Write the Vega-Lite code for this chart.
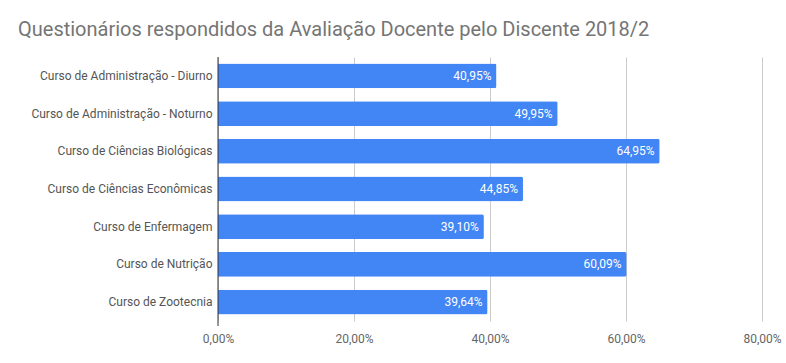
{
  "$schema": "https://vega.github.io/schema/vega-lite/v6.json",
  "width": 544,
  "height": 264,
  "autosize": {"type": "none"},
  "padding": {"left": 218, "top": 57, "right": 24, "bottom": 42},
  "background": "white",
  "title": {
    "text": "Questionários respondidos da Avaliação Docente pelo Discente 2018/2",
    "anchor": "start",
    "frame": "group",
    "dx": -200,
    "offset": 17,
    "font": "Roboto",
    "fontSize": 20,
    "fontWeight": "normal",
    "color": "#757575"
  },
  "data": {
    "values": [
      {"curso": "Curso de Administração - Diurno", "valor": 0.4095, "rotulo": "40,95%"},
      {"curso": "Curso de Administração - Noturno", "valor": 0.4995, "rotulo": "49,95%"},
      {"curso": "Curso de Ciências Biológicas", "valor": 0.6495, "rotulo": "64,95%"},
      {"curso": "Curso de Ciências Econômicas", "valor": 0.4485, "rotulo": "44,85%"},
      {"curso": "Curso de Enfermagem", "valor": 0.3910, "rotulo": "39,10%"},
      {"curso": "Curso de Nutrição", "valor": 0.6009, "rotulo": "60,09%"},
      {"curso": "Curso de Zootecnia", "valor": 0.3964, "rotulo": "39,64%"}
    ]
  },
  "encoding": {
    "y": {
      "field": "curso",
      "type": "nominal",
      "sort": null,
      "title": null,
      "scale": {"paddingInner": 0.34, "paddingOuter": 0.17},
      "axis": {
        "domain": false,
        "ticks": false,
        "labelPadding": 6,
        "labelFont": "Roboto",
        "labelFontSize": 12,
        "labelColor": "#555555",
        "labelLimit": 220
      }
    },
    "x": {
      "field": "valor",
      "type": "quantitative",
      "title": null,
      "scale": {"domain": [0, 0.8], "nice": false},
      "axis": {
        "values": [0, 0.2, 0.4, 0.6, 0.8],
        "labelExpr": "replace(format(datum.value, '.2%'), '.', ',')",
        "domain": false,
        "ticks": false,
        "grid": true,
        "gridColor": "#cccccc",
        "labelPadding": 12,
        "labelFont": "Roboto",
        "labelFontSize": 12,
        "labelColor": "#666666",
        "labelFlush": false
      }
    }
  },
  "layer": [
    {
      "mark": {"type": "bar", "color": "#4285F4", "cornerRadiusEnd": 2}
    },
    {
      "mark": {"type": "rule", "color": "#333333", "strokeWidth": 1},
      "data": {"values": [{"z": 0}]},
      "encoding": {"x": {"field": "z", "type": "quantitative"}, "y": {"value": 0}, "y2": {"value": 269}}
    },
    {
      "mark": {"type": "text", "align": "right", "baseline": "middle", "dx": -5, "color": "white", "font": "Roboto", "fontSize": 12},
      "encoding": {"text": {"field": "rotulo"}}
    }
  ],
  "config": {"view": {"stroke": null}}
}
